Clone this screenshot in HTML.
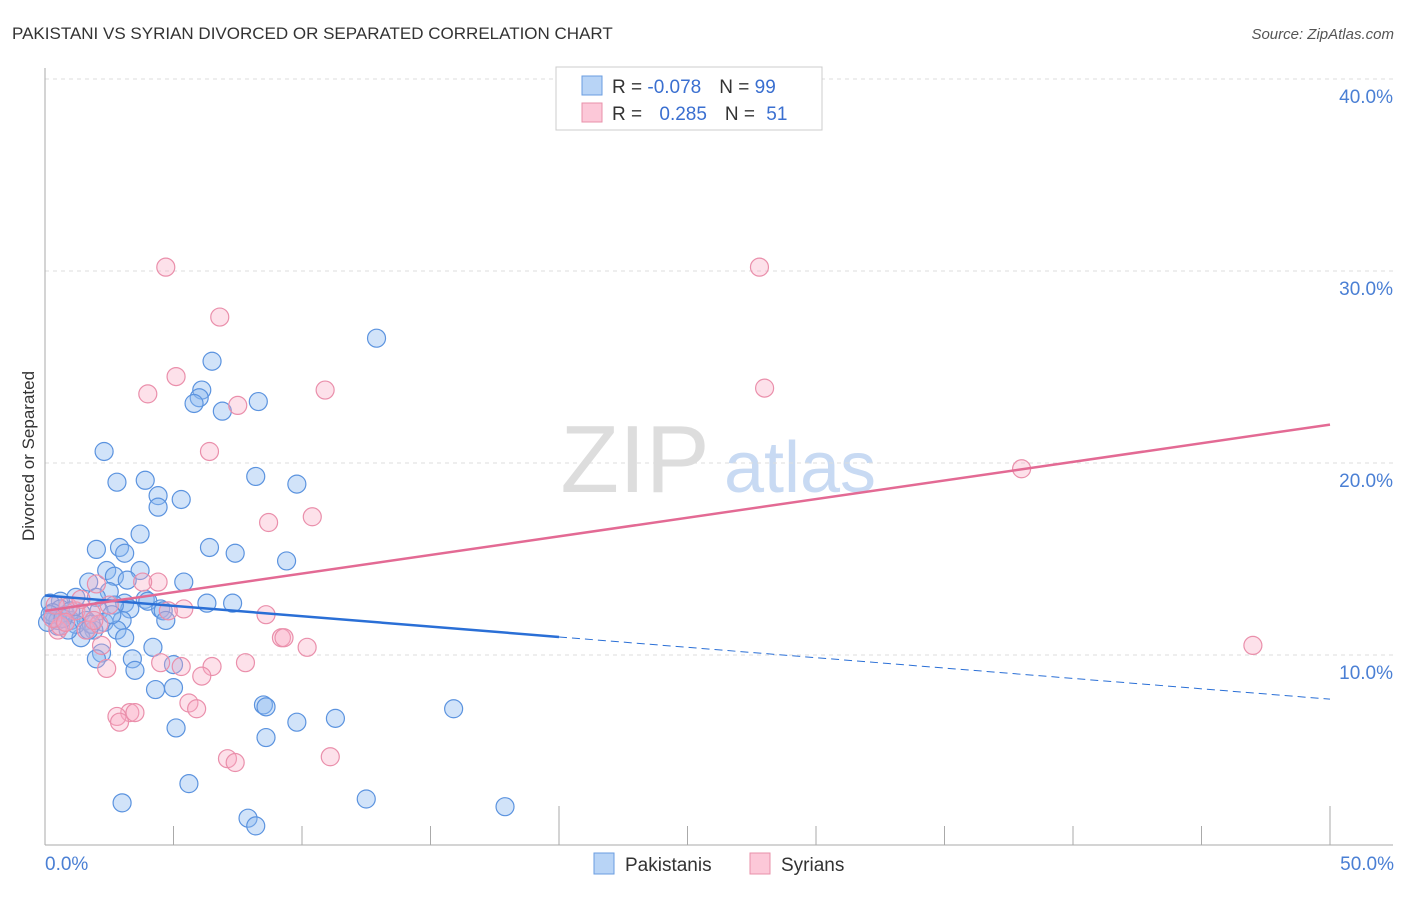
<!DOCTYPE html>
<html><head><meta charset="utf-8"><style>
body{margin:0;background:#fff;font-family:"Liberation Sans",sans-serif}
svg text{font-family:"Liberation Sans",sans-serif}
</style></head><body>
<svg id="c" width="1406" height="892" xmlns="http://www.w3.org/2000/svg">
<text x="12" y="39" font-size="17" fill="#333">PAKISTANI VS SYRIAN DIVORCED OR SEPARATED CORRELATION CHART</text>
<text x="1394" y="39" font-size="15" fill="#555" font-style="italic" text-anchor="end">Source: ZipAtlas.com</text>
<text x="34" y="456" font-size="17" fill="#333" text-anchor="middle" transform="rotate(-90 34 456)">Divorced or Separated</text>
<g><text x="635" y="492" font-size="96" fill="#ddd" text-anchor="middle" font-family="Liberation Serif">ZIP</text><text x="800" y="492" font-size="72" fill="#c8daf3" text-anchor="middle">atlas</text></g>
<g id="grid"></g><g id="axes"></g><g id="pts"></g><g id="trend"></g>
<g>
<rect x="556" y="67" width="266" height="63" fill="#fff" stroke="#ccc"/>
<rect x="582" y="76" width="20" height="19" fill="#b8d4f6" stroke="#6a9de0"/>
<rect x="582" y="103" width="20" height="19" fill="#fcc8d8" stroke="#e890aa"/>
<text x="612" y="93" font-size="19" fill="#333">R = <tspan fill="#3a6fd0">-0.078</tspan><tspan dx="18">N = </tspan><tspan fill="#3a6fd0">99</tspan></text>
<text x="612" y="120" font-size="19" fill="#333">R = <tspan dx="12" fill="#3a6fd0">0.285</tspan><tspan dx="18">N = </tspan><tspan dx="6" fill="#3a6fd0">51</tspan></text>
</g>
<g>
<rect x="594" y="853" width="20" height="21" fill="#b8d4f6" stroke="#6a9de0"/>
<text x="625" y="871" font-size="19" fill="#333">Pakistanis</text>
<rect x="750" y="853" width="20" height="21" fill="#fcc8d8" stroke="#e890aa"/>
<text x="781" y="871" font-size="19" fill="#333">Syrians</text>
</g>
</svg>
<script>
const yTicks=[10,20,30,40];
const xTickLabels=["0.0%","50.0%"];
const blueX=[12.9,6.5,6.1,6.0,5.8,6.9,8.3,2.3,3.9,2.8,4.4,4.4,5.3,8.2,9.8,3.7,2.0,2.9,3.1,6.4,7.4,9.4,2.4,3.7,2.7,3.2,1.7,5.4,2.5,2.0,1.2,0.6,0.2,3.1,3.9,4.0,6.3,7.3,4.5,4.6,3.3,2.7,2.1,1.4,0.8,0.4,1.0,1.6,2.3,3.0,4.7,1.9,2.8,0.5,0.1,1.4,3.1,2.2,4.2,2.0,3.4,5.0,3.5,4.3,5.0,8.5,8.6,15.9,9.8,11.3,5.1,8.6,5.6,3.0,12.5,17.9,7.9,8.2,0.6,1.0,0.3,0.5,1.2,1.8,2.6,0.9,1.7,0.2,0.7];
const blueY=[26.5,25.3,23.8,23.4,23.1,22.7,23.2,20.6,19.1,19.0,18.3,17.7,18.1,19.3,18.9,16.3,15.5,15.6,15.3,15.6,15.3,14.9,14.4,14.4,14.1,13.9,13.8,13.8,13.3,13.0,13.0,12.8,12.7,12.7,12.9,12.8,12.7,12.7,12.4,12.3,12.4,12.6,12.3,12.2,12.1,11.9,11.8,11.8,11.7,11.8,11.8,11.3,11.3,11.5,11.7,10.9,10.9,10.1,10.4,9.8,9.8,9.5,9.2,8.2,8.3,7.4,7.3,7.2,6.5,6.7,6.2,5.7,3.3,2.3,2.5,2.1,1.5,1.1,12.4,12.3,12.2,11.8,11.6,11.6,12.1,11.3,11.3,12.1,11.9];
const pinkX=[4.7,27.8,6.8,5.1,4.0,10.9,28.0,7.5,6.4,38.0,8.7,10.4,2.0,4.4,3.8,5.4,8.6,4.8,9.2,9.3,10.2,47.0,2.2,4.5,5.3,6.5,7.8,2.4,6.1,5.6,5.9,3.3,3.5,2.8,2.9,7.1,7.4,11.1,0.5,0.6,1.2,1.8,0.9,2.5,1.6,0.3,0.8,2.1,1.4,0.4,1.9];
const pinkY=[30.2,30.2,27.6,24.5,23.6,23.8,23.9,23.0,20.6,19.7,16.9,17.2,13.7,13.8,13.8,12.4,12.1,12.3,10.9,10.9,10.4,10.5,10.5,9.6,9.4,9.4,9.6,9.3,8.9,7.5,7.2,7.0,7.0,6.8,6.5,4.6,4.4,4.7,11.3,11.5,12.3,12.2,12.5,12.6,11.3,11.9,11.7,11.6,12.9,12.6,11.8];
const blueTrend=[13.1,7.7];
const pinkTrend=[12.3,22.0];
const NS="http://www.w3.org/2000/svg";
const X=v=>45+v*25.7, Y=v=>847-v*19.2;
function mk(t,a,p){const e=document.createElementNS(NS,t);for(const k in a)e.setAttribute(k,a[k]);p.appendChild(e);return e;}
const grid=document.getElementById('grid'),axes=document.getElementById('axes');
yTicks.forEach(t=>{
 const l=mk('line',{x1:45,x2:1393,y1:Y(t),y2:Y(t),stroke:'#ddd','stroke-dasharray':'4,4'},grid);
 
 
 const tx=mk('text',{x:1393,y:Y(t)+24,'font-size':19,fill:'#4a7fd4','text-anchor':'end'},grid);
 tx.textContent=t.toFixed(1)+'%';
 
 
});
mk('line',{x1:45,x2:45,y1:68,y2:845,stroke:'#aaa'},axes);
const xa=mk('line',{x1:45,x2:1393,y1:845,y2:845,stroke:'#aaa'},axes);


for(let i=0;i<=10;i++){const x=X(i*5);mk('line',{x1:x,x2:x,y1:(i==4||i==10)?806:826,y2:845,stroke:'#aaa'},axes);}
const xl0=mk('text',{x:45,y:870,'font-size':19,fill:'#4a7fd4'},axes);xl0.textContent=xTickLabels[0];


const xl1=mk('text',{x:1394,y:870,'font-size':19,fill:'#4a7fd4','text-anchor':'end'},axes);xl1.textContent=xTickLabels[1];


const pts=document.getElementById('pts');
blueX.forEach((x,i)=>{const c=mk('circle',{cx:X(x),cy:Y(blueY[i]),r:9,fill:'rgba(140,185,240,0.4)',stroke:'#5b93df','stroke-width':1.2},pts);
 
 });
pinkX.forEach((x,i)=>{const c=mk('circle',{cx:X(x),cy:Y(pinkY[i]),r:9,fill:'rgba(248,170,195,0.35)',stroke:'#ea8fab','stroke-width':1.2},pts);
 
 });
const tr=document.getElementById('trend');
const bAt=x=>blueTrend[0]+(blueTrend[1]-blueTrend[0])*x/50;
const b1=mk('line',{x1:X(0),y1:Y(bAt(0)),x2:X(20),y2:Y(bAt(20)),stroke:'#2a6fd6','stroke-width':2.5},tr);


const b2=mk('line',{x1:X(20),y1:Y(bAt(20)),x2:X(50),y2:Y(bAt(50)),stroke:'#2a6fd6','stroke-width':1,'stroke-dasharray':'8,5'},tr);


const p1=mk('line',{x1:X(0),y1:Y(pinkTrend[0]),x2:X(50),y2:Y(pinkTrend[1]),stroke:'#e36a94','stroke-width':2.5},tr);


</script>
</body></html>
